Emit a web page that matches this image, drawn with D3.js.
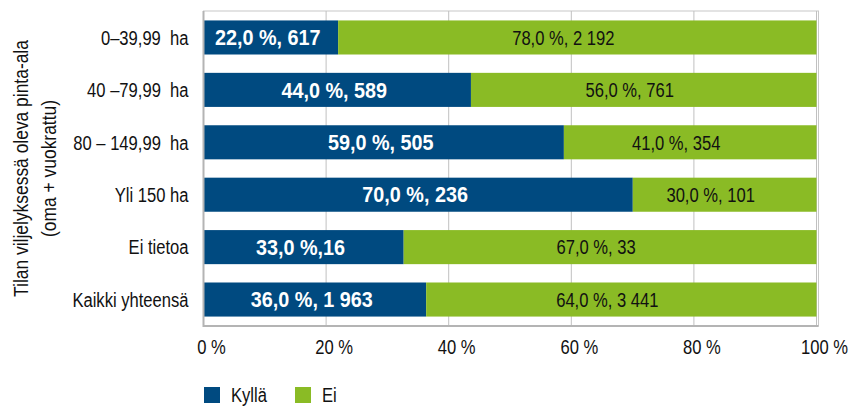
<!DOCTYPE html>
<html>
<head>
<meta charset="utf-8">
<script src="https://cdn.jsdelivr.net/npm/d3@7"></script>
<style>
  body { margin: 0; background: #fff; }
  text { font-family: 'Liberation Sans', Arial, sans-serif; white-space: pre; }
</style>
</head>
<body>
<div id="chart"></div>
<script>
// Chart data
const categories = ['0–39,99  ha', '40 –79,99  ha', '80 – 149,99  ha', 'Yli 150 ha', 'Ei tietoa', 'Kaikki yhteensä'];
const kyllaCounts = [617, 589, 505, 236, 16, 1963];
const eiCounts = [2192, 761, 354, 101, 33, 3441];
const kyllaLabels = ['22,0 %, 617', '44,0 %, 589', '59,0 %, 505', '70,0 %, 236', '33,0 %,16', '36,0 %, 1 963'];
const eiLabels = ['78,0 %, 2 192', '56,0 %, 761', '41,0 %, 354', '30,0 %, 101', '67,0 %, 33', '64,0 %, 3 441'];
const seriesNames = ['Kyllä', 'Ei'];
const xTicks = [0, 0.2, 0.4, 0.6, 0.8, 1];
const yTitle = ['Tilan viljelyksessä oleva pinta-ala', '(oma + vuokrattu)'];

const colors = {'Kyllä': '#004a80', 'Ei': '#8abb25'};
const width = 850, height = 407;
const margin = {left: 203.5, right: 33.5, top: 11, bottom: 81};
// condensed look: no narrow font installed, so squeeze Liberation Sans
const narrow = 0.79;

function place(px, py, sx) {
  return 'translate(' + px + ',' + py + ') scale(' + sx + ',1)';
}

const svg = d3.select('#chart').append('svg')
    .attr('width', width)
    .attr('height', height);

let rows = categories.map((c, i) => ({cat: c, 'Kyllä': kyllaCounts[i], 'Ei': eiCounts[i], i: i}));
let stacked = d3.stack().keys(seriesNames).offset(d3.stackOffsetExpand)(rows);

let x = d3.scaleLinear().domain([0, 1]).range([margin.left, width - margin.right]);
let y = d3.scaleBand().domain(categories)
    .range([margin.top, height - margin.bottom])
    .paddingInner(0.35).paddingOuter(0.18);

// plot frame
svg.append('rect')
    .attr('x', x(0)).attr('y', margin.top)
    .attr('width', x(1) - x(0) + 2).attr('height', height - margin.bottom - margin.top)
    .attr('fill', 'none').attr('stroke', '#c8c8c8').attr('stroke-width', 1);

// gridlines
svg.append('g').selectAll('line')
    .data(xTicks.slice(1))
    .join('line')
    .attr('x1', d => x(d)).attr('x2', d => x(d))
    .attr('y1', margin.top).attr('y2', height - margin.bottom)
    .attr('stroke', '#c0c0c0').attr('stroke-width', 1);

// bars
let layers = svg.append('g').selectAll('g')
    .data(stacked)
    .join('g')
    .attr('fill', d => colors[d.key]);

layers.selectAll('rect')
    .data(d => d)
    .join('rect')
    .attr('x', d => x(d[0]))
    .attr('y', d => y(d.data.cat))
    .attr('width', d => x(d[1]) - x(d[0]))
    .attr('height', y.bandwidth());

// segment labels
stacked.forEach(function(layer) {
  let isKylla = layer.key === 'Kyllä';
  svg.append('g').selectAll('text')
      .data(layer)
      .join('text')
      .attr('transform', d => place((x(d[0]) + x(d[1])) / 2 + (isKylla ? -3 : -14),
                                    y(d.data.cat) + y.bandwidth() / 2, isKylla ? 0.9 : narrow))
      .attr('dy', '0.35em')
      .attr('text-anchor', 'middle')
      .attr('fill', isKylla ? '#fff' : '#111')
      .style('font-size', isKylla ? '22px' : '21px')
      .style('font-weight', isKylla ? '700' : '400')
      .text(d => isKylla ? kyllaLabels[d.data.i] : eiLabels[d.data.i]);
});

// axes lines
svg.append('line')
    .attr('x1', x(0)).attr('x2', x(0))
    .attr('y1', margin.top).attr('y2', height - margin.bottom + 1)
    .attr('stroke', '#b4b4b4').attr('stroke-width', 2);
svg.append('line')
    .attr('x1', x(0)).attr('x2', x(1) + 2)
    .attr('y1', height - margin.bottom).attr('y2', height - margin.bottom)
    .attr('stroke', '#b4b4b4').attr('stroke-width', 2);

// x tick labels
svg.append('g').selectAll('text')
    .data(xTicks)
    .join('text')
    .attr('transform', d => place(x(d) + 8, height - margin.bottom + 21, narrow))
    .attr('dy', '0.35em')
    .attr('text-anchor', 'middle')
    .attr('fill', '#111')
    .style('font-size', '21px')
    .text(d => Math.round(d * 100) + ' %');

// category labels
svg.append('g').selectAll('text')
    .data(categories)
    .join('text')
    .attr('transform', d => place(margin.left - 15, y(d) + y.bandwidth() / 2, narrow))
    .attr('dy', '0.35em')
    .attr('text-anchor', 'end')
    .attr('fill', '#111')
    .style('font-size', '21px')
    .text(d => d);

// y axis title
let midY = (margin.top + height - margin.bottom) / 2;
yTitle.forEach(function(t, i) {
  svg.append('text')
      .attr('transform', 'translate(' + (21 + i * 28) + ',' + midY + ') rotate(-90) scale(0.83,1)')
      .attr('dy', '0.35em')
      .attr('text-anchor', 'middle')
      .attr('fill', '#111')
      .style('font-size', '21px')
      .text(t);
});

// legend
let legend = svg.append('g').selectAll('g')
    .data(seriesNames)
    .join('g')
    .attr('transform', (d, i) => 'translate(' + (204 + i * 91) + ',387)');
legend.append('rect')
    .attr('width', 16).attr('height', 16)
    .attr('fill', d => colors[d]);
legend.append('text')
    .attr('transform', place(27, 8, narrow))
    .attr('dy', '0.35em')
    .attr('fill', '#111')
    .style('font-size', '21px')
    .text(d => d);
</script>
</body>
</html>
